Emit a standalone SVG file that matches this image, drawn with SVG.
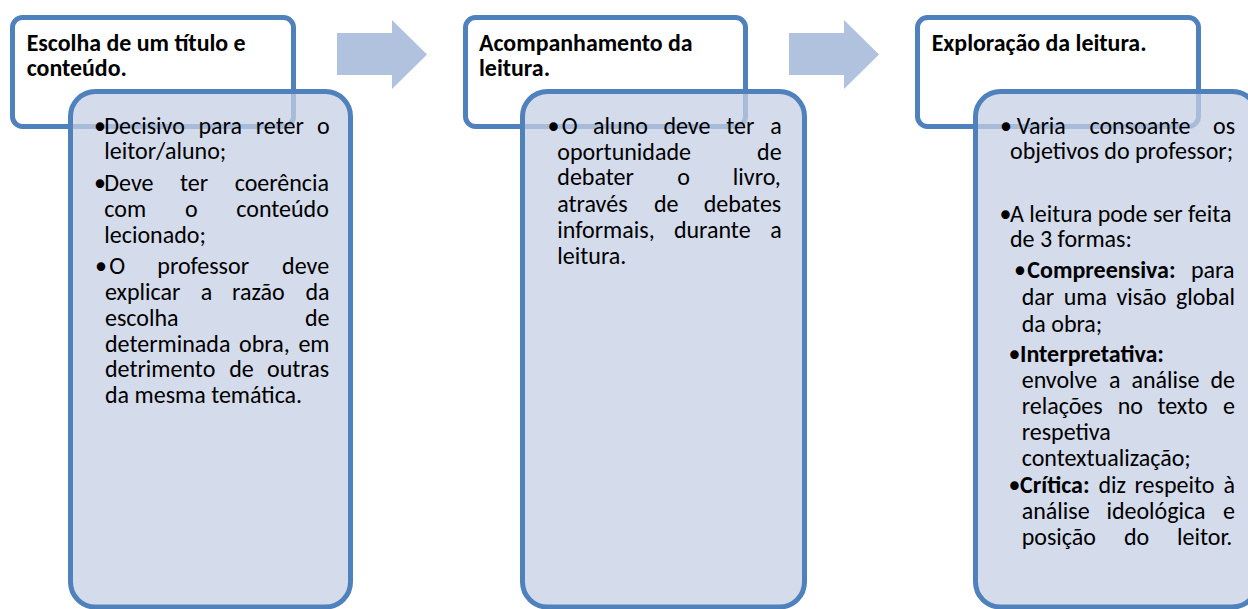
<svg xmlns="http://www.w3.org/2000/svg" width="1248" height="609" viewBox="0 0 1248 609">
<style>
.tb{fill:#fff;stroke:#4F81BD;stroke-width:5}
.sb{fill:#C5CFE3;fill-opacity:0.75;stroke:#4F81BD;stroke-width:5}
.arr{fill:#B1C2DE}
text{font-family:Carlito,Lato,"Liberation Sans",sans-serif;fill:#000}
.t{font-size:23.9px;font-weight:bold}
.b{font-size:24px}
.k{font-weight:bold}
</style>
<rect width="1248" height="609" fill="#fff"/>
<g id="connectors">
<path class="arr" d="M337,33 H392 V20 L427,54.5 L392,89 V75 H337 Z"/>
<path class="arr" d="M789,33 H844 V20 L879,54.5 L844,89 V75 H789 Z"/>
</g>
<g id="node1">
<rect class="tb" x="12.5" y="17.5" width="281" height="109" rx="10"/>
<rect class="sb" x="70.5" y="91.5" width="280" height="515.5" rx="25"/>
<text class="t" x="26.7" y="50.7">Escolha de um título e</text>
<text class="t" x="26.7" y="76">conteúdo.</text>
<g class="b">
<text y="134"><tspan x="94">•</tspan><tspan x="104.3">Decisivo</tspan><tspan x="198.5">para</tspan><tspan x="255.8">reter</tspan><tspan x="317">o</tspan></text>
<text y="159.3" x="104.3">leitor/aluno;</text>
<text y="190.7"><tspan x="94">•</tspan><tspan x="104.3">Deve</tspan><tspan x="180">ter</tspan><tspan x="234.7">coerência</tspan></text>
<text y="216.7"><tspan x="104.3">com</tspan><tspan x="185">o</tspan><tspan x="236.3">conteúdo</tspan></text>
<text y="242.7" x="104.3">lecionado;</text>
<text y="274"><tspan x="95">•</tspan><tspan x="109.3">O</tspan><tspan x="157.3">professor</tspan><tspan x="282.1">deve</tspan></text>
<text y="300"><tspan x="105">explicar</tspan><tspan x="200.8">a</tspan><tspan x="232.1">razão</tspan><tspan x="305.4">da</tspan></text>
<text y="326"><tspan x="105">escolha</tspan><tspan x="305">de</tspan></text>
<text y="351.7"><tspan x="105">determinada</tspan><tspan x="239">obra,</tspan><tspan x="298.4">em</tspan></text>
<text y="377.3"><tspan x="105">detrimento</tspan><tspan x="229.2">de</tspan><tspan x="267">outras</tspan></text>
<text y="403.3" x="105">da mesma temática.</text>
</g>
</g>
<g id="node2">
<rect class="tb" x="465.5" y="17.5" width="280" height="109" rx="10"/>
<rect class="sb" x="522.5" y="91.5" width="282" height="515.5" rx="25"/>
<text class="t" x="479" y="50.7">Acompanhamento da</text>
<text class="t" x="479" y="76">leitura.</text>
<g class="b">
<text y="134"><tspan x="547.5">•</tspan><tspan x="561.7">O</tspan><tspan x="593.1">aluno</tspan><tspan x="663.4">deve</tspan><tspan x="726.3">ter</tspan><tspan x="770.2">a</tspan></text>
<text y="159.7"><tspan x="557.3">oportunidade</tspan><tspan x="757.1">de</tspan></text>
<text y="185.4"><tspan x="557.3">debater</tspan><tspan x="677.3">o</tspan><tspan x="732.8">livro,</tspan></text>
<text y="211.5"><tspan x="557.3">através</tspan><tspan x="654">de</tspan><tspan x="703.7">debates</tspan></text>
<text y="237.5"><tspan x="557.3">informais,</tspan><tspan x="673.9">durante</tspan><tspan x="770.2">a</tspan></text>
<text y="263.5" x="557.3">leitura.</text>
</g>
</g>
<g id="node3">
<rect class="tb" x="917.5" y="17.5" width="281" height="109" rx="10"/>
<rect class="sb" x="975.5" y="91.5" width="282" height="515.5" rx="25"/>
<text class="t" x="931.7" y="50.7">Exploração da leitura.</text>
<g class="b">
<text y="134"><tspan x="1000">•</tspan><tspan x="1016.7">Varia</tspan><tspan x="1089.5">consoante</tspan><tspan x="1213">os</tspan></text>
<text y="159.3" x="1010">objetivos do professor;</text>
<text y="221.7"><tspan x="999.5">•</tspan><tspan x="1010">A leitura pode ser feita</tspan></text>
<text y="246.7" x="1010">de 3 formas:</text>
<text y="277.7"><tspan x="1014">•</tspan><tspan x="1027.3" class="k">Compreensiva:</tspan><tspan x="1191">para</tspan></text>
<text y="305"><tspan x="1021.7">dar</tspan><tspan x="1063.7">uma</tspan><tspan x="1116.5">visão</tspan><tspan x="1175.9">global</tspan></text>
<text y="331.7" x="1021.7">da obra;</text>
<text y="361.7"><tspan x="1008.5">•</tspan><tspan x="1020" class="k">Interpretativa:</tspan></text>
<text y="388.3"><tspan x="1021.7">envolve</tspan><tspan x="1109">a</tspan><tspan x="1131.5">análise</tspan><tspan x="1210.4">de</tspan></text>
<text y="414"><tspan x="1021.7">relações</tspan><tspan x="1117.7">no</tspan><tspan x="1157.4">texto</tspan><tspan x="1223">e</tspan></text>
<text y="440" x="1021.7">respetiva</text>
<text y="466" x="1021.7">contextualização;</text>
<text y="493.3"><tspan x="1008.5">•</tspan><tspan x="1020" class="k">Crítica:</tspan><tspan x="1098.4">diz</tspan><tspan x="1134.5">respeito</tspan><tspan x="1223.5">à</tspan></text>
<text y="519.3"><tspan x="1021.7">análise</tspan><tspan x="1106.4">ideológica</tspan><tspan x="1223">e</tspan></text>
<text y="545"><tspan x="1021.7">posição</tspan><tspan x="1124">do</tspan><tspan x="1177">leitor.</tspan></text>
</g>
</g>
</svg>
